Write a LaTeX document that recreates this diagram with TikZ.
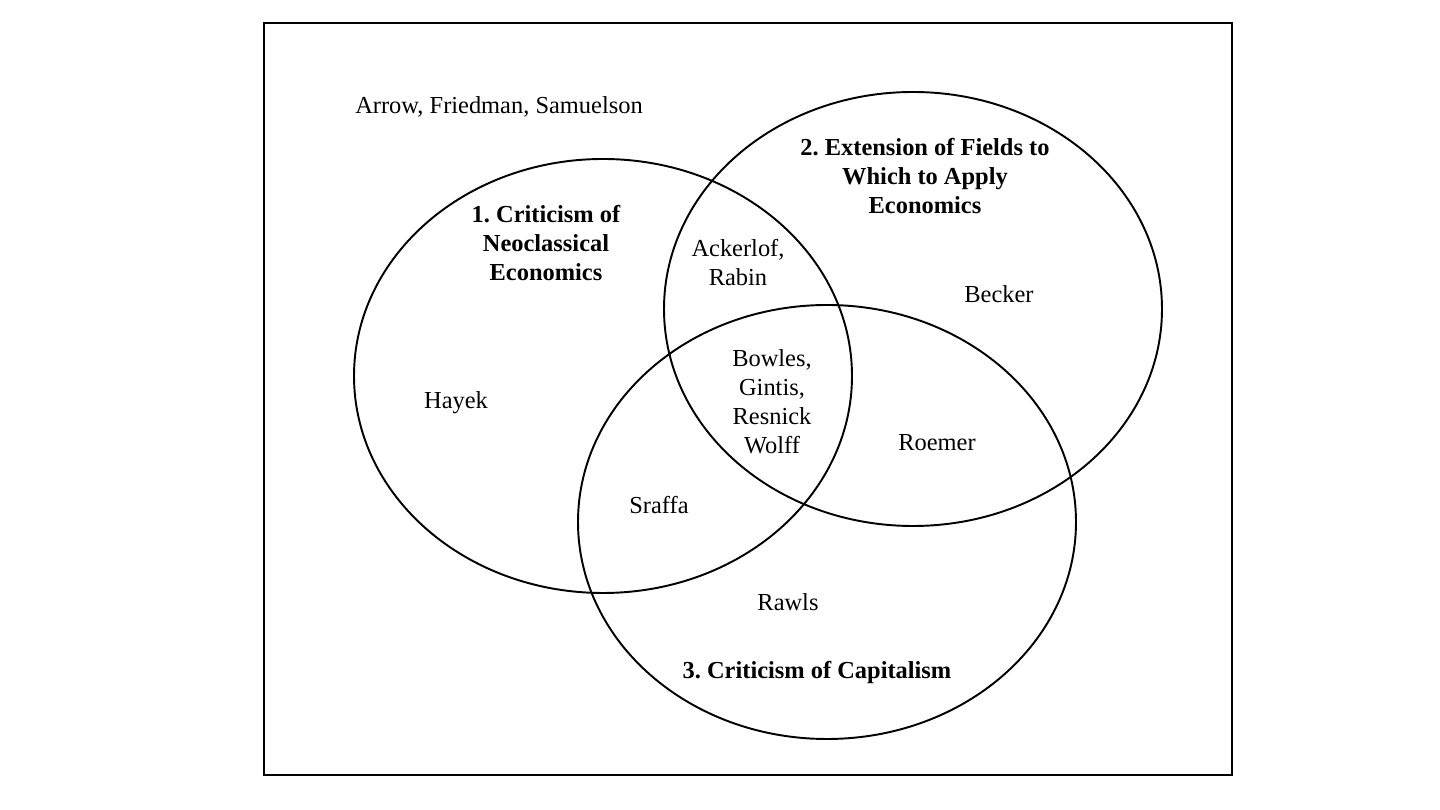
\documentclass[tikz,border=0pt]{standalone}
\usepackage{fontspec}
\setmainfont{Liberation Serif}
\usetikzlibrary{calc}
\usetikzlibrary{shapes.geometric}
\tikzstyle{setnode} = [draw, ellipse, line width=1.1pt, minimum width=9.96cm, minimum height=8.68cm, inner sep=0]
\tikzstyle{namenode} = [align=center, inner sep=0, font=\fontsize{13.9}{16.5}\selectfont]
\tikzstyle{titlenode} = [align=center, inner sep=0, font=\fontsize{13.9}{16.5}\selectfont\bfseries]
\frenchspacing

\begin{document}
\begin{tikzpicture}
    \useasboundingbox (0,0) rectangle (28.8,16.2);
    \draw[line width=1.1pt] (5.28,0.70) rectangle (24.64,15.74);

    \node[setnode] (set_neo) at (12.06,8.68) {};
    \node[setnode] (set_ext) at (18.26,10.02) {};
    \node[setnode] (set_cap) at (16.54,5.76) {};

    \node[titlenode] (title_neo) at (10.92,11.34) {1. Criticism of\\Neoclassical\\Economics};
    \node[titlenode] (title_ext) at (18.50,12.68) {2. Extension of Fields to\\Which to Apply\\Economics};
    \node[titlenode] (title_cap) at (16.34,2.74) {3. Criticism of Capitalism};

    \node[namenode] (outside) at (9.98,14.06) {Arrow, Friedman, Samuelson};
    \node[namenode] (ackerlof) at (14.76,10.94) {Ackerlof,\\Rabin};
    \node[namenode] (becker) at (19.98,10.32) {Becker};
    \node[namenode] (hayek) at (9.12,8.14) {Hayek};
    \node[namenode] (bowles) at (15.44,8.16) {Bowles,\\Gintis,\\Resnick\\Wolff};
    \node[namenode] (roemer) at (18.74,7.34) {Roemer};
    \node[namenode] (sraffa) at (13.18,6.10) {Sraffa};
    \node[namenode] (rawls) at (15.76,4.16) {Rawls};
\end{tikzpicture}
\end{document}
